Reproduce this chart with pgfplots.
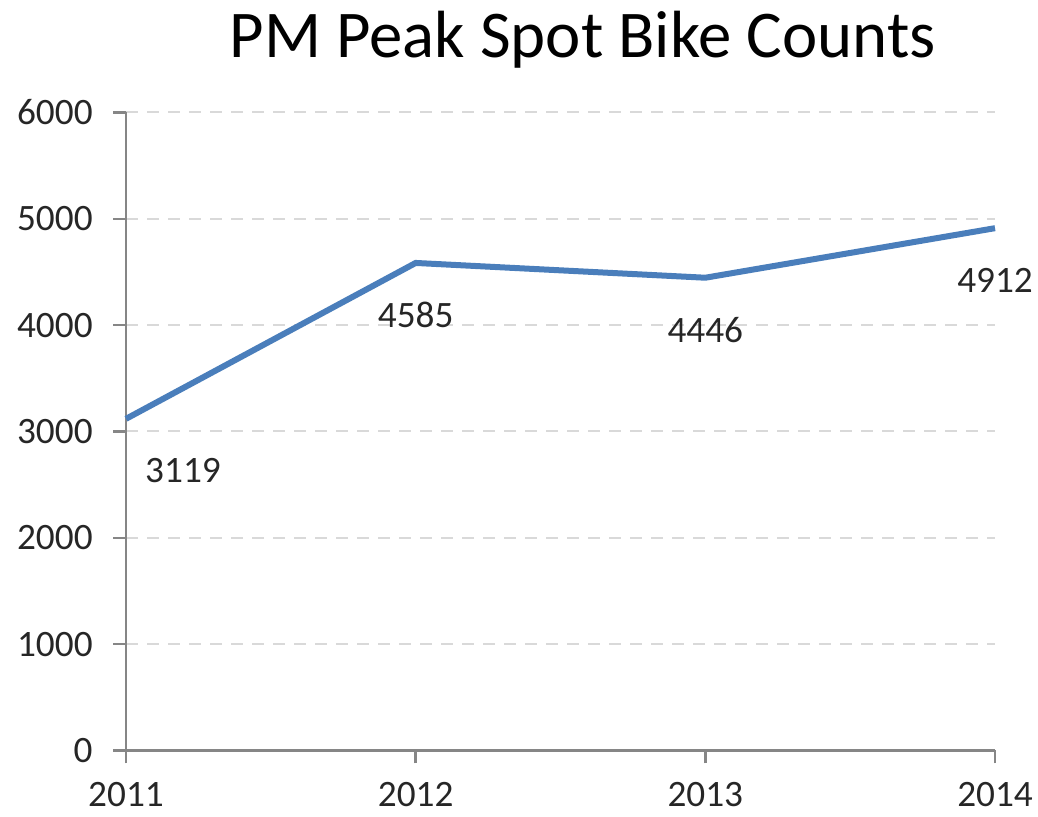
\documentclass[border=0pt]{standalone}
\usepackage{pgfplots}
\pgfplotsset{compat=1.18}
\usepackage{fontspec}
\setmainfont{Carlito}
\definecolor{lineblue}{HTML}{4A7EBB}
\definecolor{gridgray}{HTML}{D9D9D9}
\definecolor{axisgray}{HTML}{868686}
\definecolor{txt}{HTML}{262626}
\begin{document}
\begin{tikzpicture}
\begin{axis}[
  name=ax,
  scale only axis,
  width=86.9mm, height=63.8mm,
  xmin=2011, xmax=2014, ymin=0, ymax=6000,
  xtick={2011,2012,2013,2014},
  xticklabels={2011,2012,2013,2014},
  ytick={0,1000,...,6000},
  axis lines*=left,
  axis line style={axisgray, line width=0.25mm},
  tick style={axisgray, line width=0.25mm},
  tick align=outside,
  major tick length=1.3mm,
  ymajorgrids,
  major grid style={gridgray, line width=0.2mm, dash pattern=on 1.2mm off 0.9mm},
  /pgf/number format/1000 sep={},
  /pgf/number format/assume math mode=true,
  tick label style={font=\fontsize{10.6}{12}\selectfont, text=txt},
  yticklabel style={xshift=-0.8mm},
  xticklabel style={yshift=-0.6mm},
  clip=false,
]
\addplot[lineblue, line width=0.6mm] coordinates {(2011,3119) (2012,4585) (2013,4446) (2014,4912)};
\addplot[draw=none, nodes near coords, point meta=explicit symbolic,
  every node near coord/.append style={anchor=center, yshift=-5.2mm, xshift=5.7mm, font=\fontsize{10.6}{12}\selectfont, text=txt}]
  coordinates {(2011,3119) [3119]};
\addplot[draw=none, nodes near coords, point meta=explicit symbolic,
  every node near coord/.append style={anchor=center, yshift=-5.2mm, font=\fontsize{10.6}{12}\selectfont, text=txt}]
  coordinates {(2012,4585) [4585] (2013,4446) [4446] (2014,4912) [4912]};
\end{axis}
\node[anchor=base, font=\fontsize{19}{22}\selectfont, text=black] at ([xshift=2.2mm, yshift=5.5mm]ax.north) {PM Peak Spot Bike Counts};
\pgfresetboundingbox
\path ([xshift=-12.6mm, yshift=-6.6mm]ax.south west) rectangle ([xshift=4.3mm, yshift=11.25mm]ax.north east);
\end{tikzpicture}
\end{document}
